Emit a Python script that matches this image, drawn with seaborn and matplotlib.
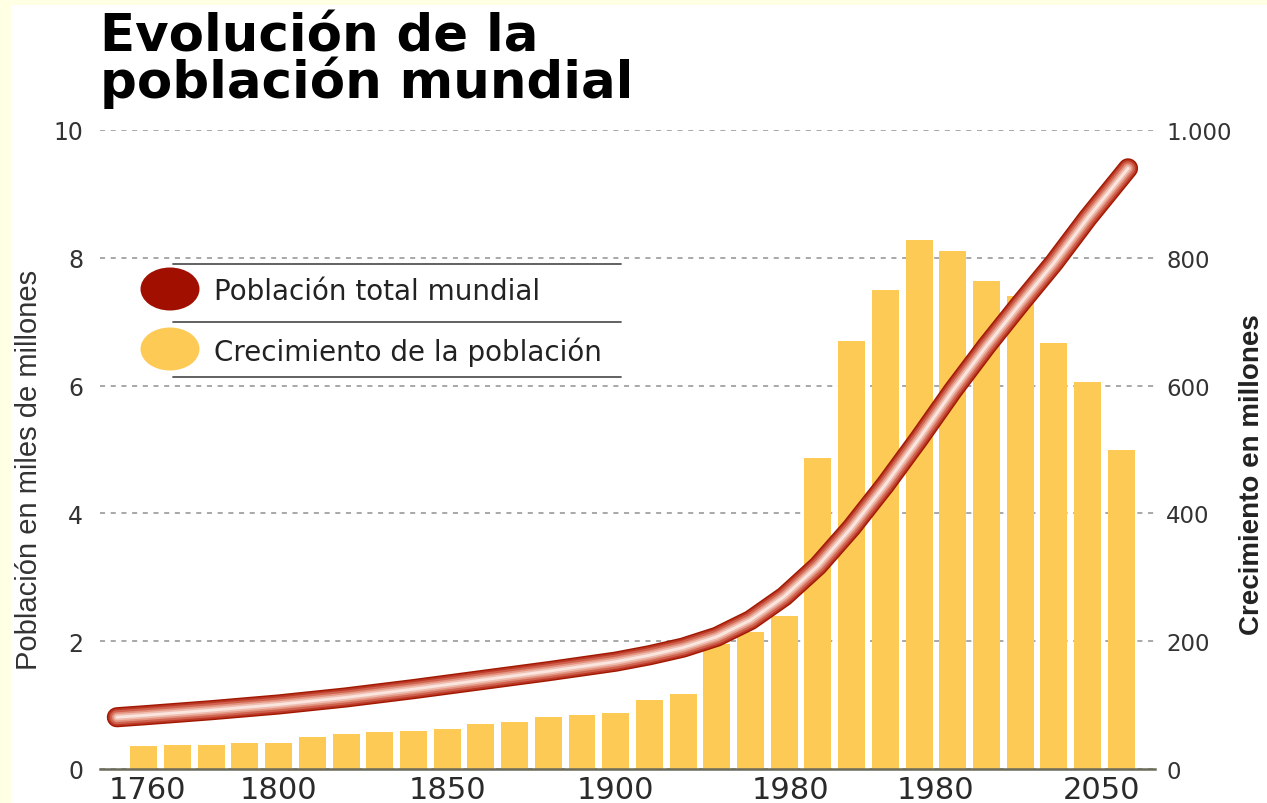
import matplotlib
matplotlib.use("Agg")
import matplotlib.pyplot as plt
from matplotlib.patches import Ellipse, Rectangle
from matplotlib.lines import Line2D
import seaborn as sns

# growth of the world population per decade (millions) - right axis
bar_years = [1760, 1770, 1780, 1790, 1800, 1810, 1820, 1830, 1840, 1850,
             1860, 1870, 1880, 1890, 1900, 1910, 1920, 1930, 1940, 1950,
             1960, 1970, 1980, 1990, 2000, 2010, 2020, 2030, 2040, 2050]
growth = [36, 37, 37, 41, 41, 50, 54, 58, 59, 62,
          70, 74, 81, 85, 87, 108, 117, 195, 215, 240,
          487, 670, 750, 828, 810, 763, 740, 667, 606, 500]

# total world population (thousands of millions) - left axis
pop_years = [1752, 1760, 1780, 1800, 1820, 1840, 1860, 1880, 1900, 1910,
             1920, 1930, 1940, 1950, 1960, 1970, 1980, 1990, 2000, 2010,
             2020, 2030, 2040, 2052]
population = [0.81, 0.84, 0.92, 1.01, 1.12, 1.25, 1.39, 1.53, 1.68, 1.78,
              1.90, 2.07, 2.33, 2.70, 3.18, 3.78, 4.45, 5.17, 5.92, 6.62,
              7.28, 7.92, 8.62, 9.40]

# axis ticks as printed on the original (labels kept as they are)
x_tick_pos = [1761, 1800, 1850, 1900, 1952, 1995, 2044]
x_tick_labels = ["1760", "1800", "1850", "1900", "1980", "1980", "2050"]
left_ticks = [0, 2, 4, 6, 8, 10]
left_labels = ["0", "2", "4", "6", "8", "10"]
right_ticks = [0, 200, 400, 600, 800, 1000]
right_labels = ["0", "200", "400", "600", "800", "1.000"]

legend_labels = ["Población total mundial", "Crecimiento de la población"]

BAR_COLOR = "#FDCB55"
RED = "#A00F00"
W, H = 1267, 804

sns.set_theme(style="white")
plt.rcParams["font.family"] = ["DejaVu Sans"]

fig = plt.figure(figsize=(W / 100, H / 100), dpi=100, facecolor="#FFFFE4")
# white card on top of the pale yellow page
fig.add_artist(Rectangle((11 / W, 0), 1, 1 - 6 / H, transform=fig.transFigure,
                         facecolor="white", edgecolor="none", zorder=0))

ax = fig.add_axes([100 / W, 1 - 770 / H, 1055 / W, 639 / H])
ax2 = ax.twinx()
ax.set_zorder(2)
ax2.set_zorder(1)
ax.patch.set_visible(False)
ax2.patch.set_visible(False)

# bars (growth) on the right axis
sns.barplot(x=bar_years, y=growth, native_scale=True, width=0.8, color=BAR_COLOR,
            saturation=1, errorbar=None, linewidth=0, ax=ax2)

# population line drawn as a shaded tube
tube = [(14.5, "#A01800"), (12.5, "#BC3826"), (10, "#D0634F"),
        (7, "#E29480"), (4.5, "#EFBEB1"), (2, "#FAE6DF")]
for lw, c in tube:
    sns.lineplot(x=pop_years, y=population, ax=ax, color=c, linewidth=lw,
                 solid_capstyle="round", solid_joinstyle="round", legend=False)

ax.set_xlim(1747, 2060)
ax.set_ylim(0, 10)
ax2.set_ylim(0, 1000)

ax.set_xticks(x_tick_pos)
ax.set_xticklabels(x_tick_labels)
ax.set_yticks(left_ticks)
ax.set_yticklabels(left_labels)
ax2.set_yticks(right_ticks)
ax2.set_yticklabels(right_labels)
ax.set_xlabel("")
ax.set_ylabel("")
ax2.set_xlabel("")
ax2.set_ylabel("")

ax.tick_params(axis="x", length=0, labelsize=22, pad=4, labelcolor="#2a2a2a")
ax.tick_params(axis="y", length=0, labelsize=17, pad=12, labelcolor="#333333")
ax2.tick_params(axis="y", length=0, labelsize=16.5, pad=8, labelcolor="#333333")

ax.grid(False)
ax2.grid(False)
ax2.yaxis.grid(True, linestyle=(0, (2.6, 2.9)), color="#A8A8A8", linewidth=1.4)
ax2.set_axisbelow(True)

for s in ax.spines.values():
    s.set_visible(False)
for s in ax2.spines.values():
    s.set_visible(False)
ax.spines["bottom"].set_visible(True)
ax.spines["bottom"].set_color("#6b6b5c")
ax.spines["bottom"].set_linewidth(1.8)

# titles and axis labels
fig.text(100 / W, 1 - 13 / H, "Evolución de la\npoblación mundial", fontsize=37,
         weight="bold", ha="left", va="top", linespacing=0.85, color="black")
fig.text(15 / W, 1 - 470 / H, "Población en miles de millones", rotation=90,
         ha="left", va="center", fontsize=21, family=["Liberation Sans", "DejaVu Sans"],
         color="#333333")
fig.text(1265 / W, 1 - 635 / H, "Crecimiento en millones", rotation=90,
         ha="right", va="bottom", fontsize=20, weight="bold",
         family=["Liberation Sans", "DejaVu Sans"], color="#222222")

# hand-made legend
for y in (265, 323, 378):
    fig.add_artist(Line2D([173 / W, 621 / W], [1 - y / H, 1 - y / H],
                          transform=fig.transFigure, color="#555555", linewidth=1.3))
for (y, c), label in zip([(290, RED), (350, BAR_COLOR)], legend_labels):
    fig.add_artist(Ellipse((170 / W, 1 - y / H), 59 / W, 43 / H,
                           transform=fig.transFigure, facecolor=c, edgecolor="none"))
    fig.text(214 / W, 1 - (y + 2) / H, label, ha="left", va="center",
             fontsize=20, color="#222222")

fig.savefig("out.png", dpi=100, facecolor=fig.get_facecolor())
